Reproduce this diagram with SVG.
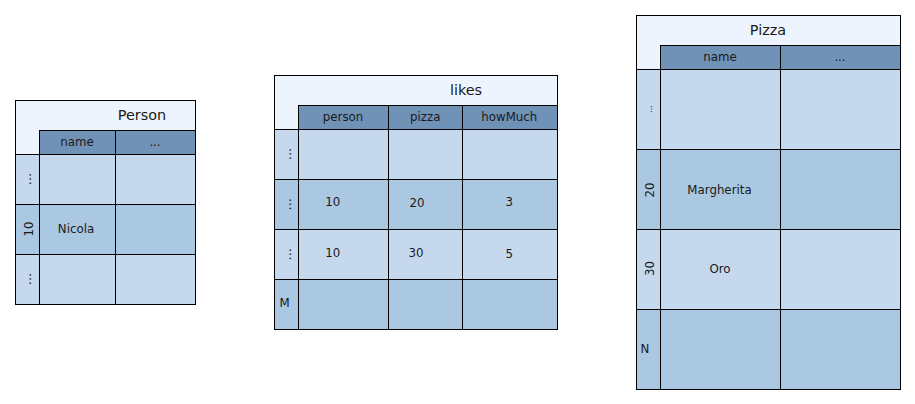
<svg xmlns="http://www.w3.org/2000/svg" width="915" height="404" viewBox="0 0 915 404">
<style>
.t,.h,.l,.d{stroke:#000;stroke-width:1}
.t{fill:#eef4fd}
.h{fill:#7092b6}
.l{fill:#c5d8ed}
.d{fill:#aac8e2}
text{font-family:"DejaVu Sans","Noto Sans",sans-serif;fill:#1a1a1a;text-anchor:middle}
.c{font-size:11.8px;dominant-baseline:central}
.ti{font-size:14.4px;dominant-baseline:central}
.dots{font-size:13px}
.sd{font-size:8.5px}
</style>
<rect width="915" height="404" fill="#fff"/>
<g id="person">
<rect class="t" x="15.5" y="100.5" width="180" height="204"/>
<rect class="h" x="39.5" y="130.5" width="76" height="24"/>
<rect class="h" x="115.5" y="130.5" width="80" height="24"/>
<rect class="l" x="15.5" y="154.5" width="24" height="50"/>
<rect class="l" x="39.5" y="154.5" width="76" height="50"/>
<rect class="l" x="115.5" y="154.5" width="80" height="50"/>
<rect class="d" x="15.5" y="204.5" width="24" height="50"/>
<rect class="d" x="39.5" y="204.5" width="76" height="50"/>
<rect class="d" x="115.5" y="204.5" width="80" height="50"/>
<rect class="l" x="15.5" y="254.5" width="24" height="50"/>
<rect class="l" x="39.5" y="254.5" width="76" height="50"/>
<rect class="l" x="115.5" y="254.5" width="80" height="50"/>
<text class="ti" x="142" y="115">Person</text>
<text class="c" x="77" y="142.3">name</text>
<text class="c" x="155" y="142.3">...</text>
<text class="dots" transform="translate(31,179) rotate(-90)">...</text>
<text class="c" transform="translate(29,229) rotate(-90)">10</text>
<text class="dots" transform="translate(31,279) rotate(-90)">...</text>
<text class="c" x="76" y="229">Nicola</text>
</g>
<g id="likes">
<rect class="t" x="274.5" y="75.5" width="283" height="254"/>
<rect class="h" x="298.5" y="105.5" width="90" height="24"/>
<rect class="h" x="388.5" y="105.5" width="74" height="24"/>
<rect class="h" x="462.5" y="105.5" width="95" height="24"/>
<rect class="l" x="274.5" y="129.5" width="24" height="50"/>
<rect class="l" x="298.5" y="129.5" width="90" height="50"/>
<rect class="l" x="388.5" y="129.5" width="74" height="50"/>
<rect class="l" x="462.5" y="129.5" width="95" height="50"/>
<rect class="d" x="274.5" y="179.5" width="24" height="50"/>
<rect class="d" x="298.5" y="179.5" width="90" height="50"/>
<rect class="d" x="388.5" y="179.5" width="74" height="50"/>
<rect class="d" x="462.5" y="179.5" width="95" height="50"/>
<rect class="l" x="274.5" y="229.5" width="24" height="50"/>
<rect class="l" x="298.5" y="229.5" width="90" height="50"/>
<rect class="l" x="388.5" y="229.5" width="74" height="50"/>
<rect class="l" x="462.5" y="229.5" width="95" height="50"/>
<rect class="d" x="274.5" y="279.5" width="24" height="50"/>
<rect class="d" x="298.5" y="279.5" width="90" height="50"/>
<rect class="d" x="388.5" y="279.5" width="74" height="50"/>
<rect class="d" x="462.5" y="279.5" width="95" height="50"/>
<text class="ti" x="466" y="90">likes</text>
<text class="c" x="343" y="117.3">person</text>
<text class="c" x="425.3" y="117.3">pizza</text>
<text class="c" x="509.3" y="117.3">howMuch</text>
<text class="dots" transform="translate(290.5,154) rotate(-90)">...</text>
<text class="dots" transform="translate(290.5,204.3) rotate(-90)">...</text>
<text class="dots" transform="translate(290.5,254.3) rotate(-90)">...</text>
<text class="c" x="284.5" y="303.3">M</text>
<text class="c" x="332.7" y="201.7">10</text>
<text class="c" x="417" y="203.3">20</text>
<text class="c" x="509.3" y="201.7">3</text>
<text class="c" x="332.7" y="252.7">10</text>
<text class="c" x="416" y="252.7">30</text>
<text class="c" x="509.3" y="254.3">5</text>
</g>
<g id="pizza">
<rect class="t" x="636.5" y="15.5" width="264" height="374"/>
<rect class="h" x="660.5" y="45.5" width="120" height="24"/>
<rect class="h" x="780.5" y="45.5" width="120" height="24"/>
<rect class="l" x="636.5" y="69.5" width="24" height="80"/>
<rect class="l" x="660.5" y="69.5" width="120" height="80"/>
<rect class="l" x="780.5" y="69.5" width="120" height="80"/>
<rect class="d" x="636.5" y="149.5" width="24" height="80"/>
<rect class="d" x="660.5" y="149.5" width="120" height="80"/>
<rect class="d" x="780.5" y="149.5" width="120" height="80"/>
<rect class="l" x="636.5" y="229.5" width="24" height="80"/>
<rect class="l" x="660.5" y="229.5" width="120" height="80"/>
<rect class="l" x="780.5" y="229.5" width="120" height="80"/>
<rect class="d" x="636.5" y="309.5" width="24" height="80"/>
<rect class="d" x="660.5" y="309.5" width="120" height="80"/>
<rect class="d" x="780.5" y="309.5" width="120" height="80"/>
<text class="ti" x="768" y="30">Pizza</text>
<text class="c" x="720" y="57.3">name</text>
<text class="c" x="840" y="57.3">...</text>
<text class="sd" transform="translate(651.5,109) rotate(-90)">...</text>
<text class="c" transform="translate(650,190) rotate(-90)">20</text>
<text class="c" transform="translate(650,268.5) rotate(-90)">30</text>
<text class="c" x="645" y="349.3">N</text>
<text class="c" x="719.5" y="190">Margherita</text>
<text class="c" x="720" y="269.3">Oro</text>
</g>
<g id="connectors"/>
</svg>
